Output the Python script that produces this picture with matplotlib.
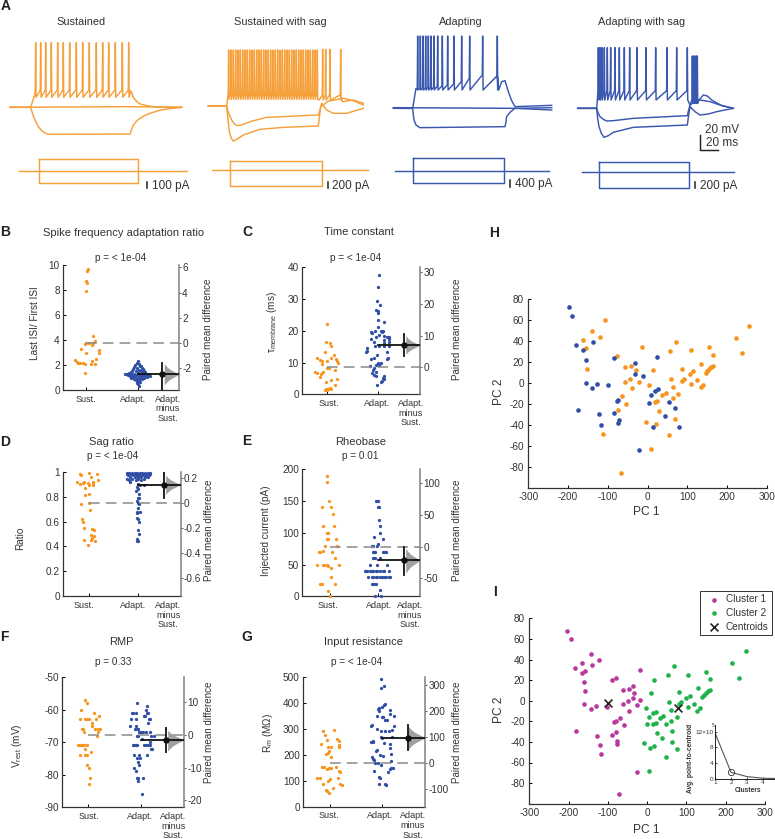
import matplotlib
matplotlib.use('Agg')
import matplotlib.pyplot as plt
import numpy as np

plt.rcParams['font.family'] = ['Liberation Sans', 'DejaVu Sans']
plt.rcParams['mathtext.default'] = 'regular'
plt.rcParams['axes.unicode_minus'] = False

ORANGE = '#F7941E'
BLUE = '#2F4EA5'
TRACE_ORANGE = '#F5A03A'
TRACE_BLUE = '#3A58AE'
MAGENTA = '#B8389C'
GREEN = '#1FB24B'
TEXT = '#333333'

# === Panel A traces at 3x ===
sus_spikes = [107, 122, 137, 154, 173, 190, 209, 229, 248, 268, 289, 308, 326, 346, 367, 386]
sus_hyper_t = [30, 92, 98, 105, 115, 125, 135, 145, 390, 395, 400, 410, 420, 435, 450, 475, 500, 545]
sus_hyper_v = [322, 322, 342, 360, 380, 392, 399, 403, 402, 388, 375, 363, 355, 346, 340, 332, 327, 322]
sus_after_t = [392, 400, 410, 420, 440, 460, 500, 545]
sus_after_v = [272, 292, 304, 312, 317, 320, 321, 322]

sag_spikes = [686, 693, 700, 707, 714, 721, 728, 735, 742, 749, 756, 763, 770, 777, 784, 791, 798, 805, 812, 819,
              826, 833, 840, 847, 854, 861, 868, 875, 882, 889, 896, 903, 910, 917, 924, 931, 938, 945, 952]
sag_late_spikes = [968, 977, 990, 1022]
sag_h1_t = [625, 680, 686, 695, 703, 712, 725, 750, 800, 955, 960, 965, 980, 1000, 1040, 1090]
sag_h1_v = [318, 318, 340, 360, 372, 377, 375, 365, 352, 345, 330, 310, 330, 340, 340, 325]
sag_h2_t = [625, 680, 684, 688, 694, 700, 710, 730, 780, 850, 955, 962, 985, 1030, 1060, 1090]
sag_h2_v = [318, 318, 360, 395, 415, 423, 418, 405, 388, 382, 378, 320, 303, 295, 302, 315]
sag_after_t = [1022, 1028, 1060, 1090]
sag_after_v = [290, 305, 300, 310]

ada_spikes = [53, 61, 69, 77, 85, 93, 102, 113, 127, 143, 162, 185, 209, 248, 292]
ada_thresh = [268, 265, 265, 265, 262, 262, 262, 258, 258, 255, 252, 245, 235, 225, 228]
ada_hyper_t = [0, 38, 40, 42, 48, 60, 315, 318, 320, 330, 345, 455]
ada_hyper_v = [325, 325, 345, 360, 375, 383, 380, 365, 350, 337, 325, 330]
ada_after_t = [292, 296, 305, 315, 325, 335, 345, 455]
ada_after_v = [228, 270, 245, 242, 275, 302, 320, 316]

adas_spikes = [595, 600, 606, 613, 622, 632, 645, 658, 673, 689, 711, 738, 767, 801, 830, 862]
adas_burst = [877, 881, 885, 889, 892]
adas_h1_t = [533, 590, 594, 600, 610, 620, 640, 700, 862, 866, 870, 885, 900, 930, 960, 1000]
adas_h1_v = [325, 325, 338, 350, 358, 363, 362, 355, 347, 330, 315, 305, 300, 305, 315, 325]
adas_h2_t = [533, 590, 593, 597, 604, 612, 625, 640, 700, 862, 866, 870, 885, 900, 925, 950, 1000]
adas_h2_v = [325, 325, 355, 380, 400, 412, 407, 397, 382, 375, 345, 320, 335, 345, 342, 335, 325]
adas_after_t = [892, 897, 910, 922, 935, 965, 1000]
adas_after_v = [310, 300, 285, 288, 300, 317, 325]

# === Panels B-G: swarm values and their horizontal spread ===
b_sust = [9.7, 9.5, 8.7, 8.6, 7.9, 4.3, 3.9, 3.8, 3.8, 3.75,
          3.7, 3.6, 3.3, 3.2, 3.0, 3.0, 2.5, 2.4, 2.3, 2.25,
          2.2, 2.15, 2.15, 2.1, 2.1, 2.1, 1.4]
b_sust_x = [2, 1, 0, 1, 0, 7, 9, 7, 0, 3,
            -1, 6, -5, 13, 13, 0, 10, -11, 6, -9,
            -6, -3, -8, 5, -1, 9, -1]
b_adapt = [2.3, 2.15, 2.05, 2.0, 1.95, 1.9, 1.85, 1.8, 1.75, 1.7,
           1.65, 1.6, 1.55, 1.55, 1.5, 1.5, 1.45, 1.45, 1.4, 1.35,
           1.35, 1.3, 1.3, 1.3, 1.25, 1.25, 1.25, 1.25, 1.2, 1.2,
           1.2, 1.2, 1.15, 1.15, 1.15, 1.1, 1.1, 1.1, 1.1, 1.05,
           1.05, 1.0, 1.0, 1.0, 0.95, 0.9, 0.9, 0.85, 0.8, 0.75,
           0.7, 0.65, 0.55, 0.45, 0.35]
b_adapt_x = [0, -1, 1, -3, 2, 3, -4, 4, -1, -5,
             5, 1, -6, 6, -2, 3, -7, 7, 0, -9,
             4, -4, -11, 8, -13, -7, 1, 5, -10, -2,
             9, 11, -6, 3, 12, -8, -3, 1, 6, -5,
             9, -1, 3, -7, 6, -4, 1, 4, -2, 1,
             -1, 2, -1, 0, 1]

c_sust = [22.2, 16.4, 16.1, 15.2, 13.3, 12.3, 11.5, 11.4, 10.7, 11.1,
          10.5, 10.5, 10.5, 9.9, 9.6, 8.4, 8.2, 7.5, 6.9, 6.7,
          7.1, 6.3, 5.5, 4.8, 4.6, 4.0, 2.8, 2.1, 1.8, 1.7,
          1.5, 1.3, 1.6]
c_sust_x = [0, -1, 3, 4, -2, 7, -10, 4, -7, 9,
            10, -5, 0, 11, -5, 2, 0, 8, -12, -10,
            -4, -6, -7, 10, 4, -1, 8, 3, 1, 4,
            0, -2, -1]
c_adapt = [37.5, 33.7, 29.3, 28, 26.7, 26.2, 25.6, 23.3, 22.7, 21.1,
           20, 20, 19.8, 19.5, 19.4, 19.5, 18.7, 18.5, 18.1, 18.2,
           18, 17.3, 17.4, 17, 16.6, 16.5, 16.2, 15.3, 15.1, 15.3,
           15.1, 14.5, 13.6, 13.2, 13.2, 12.4, 11.5, 11.2, 11.5, 11.1,
           9.9, 9.8, 9.2, 9, 9.1, 8.4, 7.7, 6.8, 6.9, 6.1,
           5.9, 5.7, 5, 4.8, 4.3, 3.8, 2.8]
c_adapt_x = [1, 0, -1, 2, -2, 0, 0, 0, 6, 0,
             -3, 3, 5, -7, -6, 4, 1, 6, -2, 11,
             9, -7, 11, 6, 11, -4, 6, -3, 1, 11,
             6, -11, -11, -12, 9, -1, 10, 9, -4, -7,
             0, 3, 1, -8, -2, -4, -5, -6, -2, -4,
             -2, 6, 5, 6, 4, 3, -1]

d_sust = [.99, .98, .98, .97, .96, .92, .93, .92, .92, .91,
          .91, .91, .89, .9, .89, .87, .82, .81, .74, .75,
          .69, .62, .6, .55, .54, .53, .49, .48, .465, .455,
          .45, .445, .41]
d_sust_x = [0, 8, -9, -8, 2, -12, 9, -5, 4, -6,
            -1, 4, 0, -9, 4, -4, 0, -4, -8, 0,
            1, -7, -6, -5, 3, 5, 2, 5, 3, 2,
            -5, 6, -1]
d_adapt = [.99, .99, .99, .99, .99, .99, .99, .99, .99, .99,
           .98, .98, .98, .98, .98, .98, .98, .98, .97, .97,
           .97, .97, .97, .97, .97, .96, .96, .96, .96, .96,
           .96, .94, .94, .94, .94, .93, .93, .93, .92, .9,
           .89, .89, .88, .865, .845, .825, .785, .79, .765, .75,
           .74, .705, .675, .675, .665, .625, .62, .595, .535, .5,
           .46, .445, .44]
d_adapt_x = [-11, -9, -6, -3, -1, 2, 4, 7, 10, 12,
             -11, -7, -4, 0, 3, 6, 9, 12, -10, -5,
             -2, 1, 5, 8, 11, -8, -3, 0, 3, 7,
             10, -11, -6, 0, 6, -9, -2, 3, -8, 0,
             2, 6, -1, 0, -2, 1, 0, 1, -1, 0,
             1, 0, -1, 2, -1, -1, 0, 1, 0, 1,
             -1, -1, 0]

e_sust = [190, 180, 150, 140, 140, 130, 110, 110, 100, 100,
          90, 90, 90, 80, 80, 72, 70, 70, 70, 60,
          50, 50, 50, 50, 50, 47, 44, 30, 20, 20,
          20, 8, 0]
e_sust_x = [-3, -3, -1, -8, 1, 3, -7, 4, -3, -2,
            -3, -2, 6, -5, 7, -7, 2, -11, -10, 5,
            -13, -7, -6, -3, 9, -2, 1, 1, -10, -8,
            5, -2, 0]
e_adapt = [150, 150, 140, 140, 120, 110, 100, 93, 90, 83,
           80, 80, 80, 70, 70, 70, 70, 70, 70, 60,
           60, 60, 50, 50, 50, 40, 40, 40, 40, 40,
           40, 40, 40, 40, 40, 40, 40, 30, 30, 30,
           30, 30, 30, 30, 30, 30, 30, 30, 20, 20,
           20, 10, 0, 0]
e_adapt_x = [-2, 0, 0, 1, 1, 2, 2, -4, 5, 0,
             -6, -5, -1, -5, -3, 5, 7, -4, 8, -5,
             -3, 2, -8, -1, 9, -13, -12, -11, -8, -6,
             -5, -2, -1, 2, 5, 6, 11, -10, -6, -5,
             -2, -1, 2, 4, 6, 8, 11, 12, -6, -4,
             -2, 2, -3, 3]

f_sust = [-57, -58, -60, -61, -62, -63, -63, -63, -63, -63,
          -64, -65, -66, -66, -66, -66, -66, -67, -67, -68,
          -71, -71, -71, -71, -71, -71, -71, -72, -73, -74,
          -74, -74, -77, -78, -81, -83]
f_sust_x = [-3, -1, -7, 6, 11, -8, -3, -1, 1, 8,
            4, 4, -6, -5, 7, 10, 12, -4, 10, 9,
            -10, -9, -8, -7, -6, -4, -1, -3, 3, -8,
            -3, -1, -1, 1, 2, 1]
f_adapt = [-58, -59, -60, -61, -61, -61, -61, -61, -62, -62,
           -63, -63, -63, -63, -64, -65, -65, -66, -66, -66,
           -67, -67, -67, -67, -67, -68, -68, -68, -68, -69,
           -70, -71, -71, -71, -71, -71, -71, -71, -71, -72,
           -72, -74, -74, -74, -75, -75, -76, -77, -78, -79,
           -81, -81, -81, -82, -86]
f_adapt_x = [-4, 6, 5, -9, -8, -5, 6, 7, 4, 3,
             -10, -5, 8, 9, 7, -11, -5, -6, -4, -3,
             -2, 0, 2, 5, 9, -4, -3, 10, 13, 1,
             9, -8, -7, -5, -4, 3, 5, 7, 9, 10,
             11, -7, -2, 6, -4, -1, -3, -2, -7, -5,
             -4, -3, 2, -3, 1]

g_sust = [295, 290, 275, 260, 258, 255, 240, 238, 232, 232,
          230, 215, 208, 205, 190, 155, 153, 150, 150, 152,
          145, 138, 135, 112, 110, 110, 108, 100, 88, 88,
          85, 72, 65, 60, 55]
g_sust_x = [4, -7, -5, 7, -3, 9, -9, 9, 9, -2,
            1, -1, -2, -4, 1, -8, -6, -1, 1, 6,
            -3, 9, 10, -13, -10, 8, 0, -2, -7, 10,
            12, 3, -4, -3, -1]
g_adapt = [490, 465, 455, 395, 390, 385, 380, 375, 370, 372,
           355, 348, 348, 335, 335, 345, 345, 315, 310, 312,
           300, 295, 290, 290, 290, 270, 270, 265, 250, 250,
           255, 245, 243, 225, 220, 215, 205, 200, 195, 190,
           185, 180, 175, 170, 170, 160, 150, 150, 145, 140,
           135, 115, 110, 90, 90, 85]
g_adapt_x = [-1, 2, -1, 3, 2, 0, -3, -4, -3, 8,
             8, -5, 12, 3, 5, 0, 1, -10, -11, 12,
             -5, 10, 7, 3, -1, -1, 10, 0, -9, -11,
             -9, 2, 8, 8, -5, -6, 9, -2, 1, -10,
             -9, -8, 9, -4, -7, -1, 9, 11, 8, -8,
             6, -3, -2, -3, 3, 4]

# bootstrap density shape, shared by the grey half violins
violin_frac = [-1, -.75, -.5, -.25, 0, .25, .5, .75, 1]
violin_dens = [0, .14, .34, .66, 1, .66, .34, .14, 0]

# === Panel H ===
h_blue_pc1 = [-198, -190, -180, -163, -138, -155, -156, -139, -127, -99, -176, -121, -117, -84, -31, -31, -11,
              23, 27, 20, 10, 5, -78, -74, -85, -71, -73, 53, 69, 45, 13, 79, -22]
h_blue_pc2 = [72, 64, 36, 31, 39, 22, 0, -5, -1, -2, -26, -30, -40, 24, 19, 8, 6,
              25, -6, -8, -12, -19, -17, -16, -29, -36, -38, -18, -24, -32, -42, -42, -64]
h_orange_pc1 = [-106, -139, -119, -163, -155, -153, -76, -15, -57, -42, -29, -45, -56, -21, -40, -64, -55, -74, -113,
                14, 3, 57, 72, 109, 154, 166, 135, 87, 60, 92, 86, 107, 114, 124, 110, 65, 139, 134, 77, 46,
                37, 65, 25, 18, 29, 68, -4, 21, 54, 9, 146, 149, 153, 157, 160, 164, 222, 239, 255, -67]
h_orange_pc2 = [60, 49, 44, 41, 33, 13, 26, 34, 15, 16, 12, 4, 1, 1, -5, -13, -20, -26, -49,
                12, -2, 30, 39, 31, 34, 27, 18, 13, 4, 4, 2, 8, 11, 3, -1, -4, -2, -4, -11, -10,
                -12, -15, -17, -18, -27, -35, -37, -39, -50, -63, 9, 11, 12, 14, 15, 16, 43, 28, 54, -86]

# === Panel I ===
i_c1_pc1 = [-203, -195, -143, -166, -123, -141, -184, -159, -166, -160, -159, -80, -89, -19, -35, -45, -62, -33, -36, -17,
            -50, -62, -26, -162, -131, -144, -103, -45, -69, -79, -85, -59, -181, -79, -89, -127, -121, -118, -76, -78,
            -27, -72]
i_c1_pc2 = [68, 60, 45, 37, 40, 35, 32, 29, 27, 18, 9, 22, 20, 30, 14, 11, 10, 7, 3, 1,
            0, -3, -4, -3, -5, -8, -6, -10, -17, -20, -21, -24, -29, -30, -33, -34, -43, -52, -39, -42,
            -69, -91]
i_c2_pc1 = [251, 217, 234, 68, 52, 105, 149, 161, 18, 10, 130, 82, 109, 100, 160, 155, 150, 145, 139, 55,
            87, 81, 120, 105, -2, 134, 128, 60, 23, 16, 5, 75, 33, 41, 61, 48, 22, 15, -1, 64,
            24, 39, -9, 63, 17, 7, 75, 48, 4]
i_c2_pc2 = [48, 37, 22, 34, 25, 25, 28, 21, 20, 7, 12, 8, 5, 3, 10, 9, 7, 6, 4, -1,
            -1, -3, -3, -6, -7, -7, -10, -9, -11, -12, -16, -16, -17, -15, -20, -23, -22, -23, -23, -29,
            -31, -36, -41, -40, -44, -46, -47, -55, -68]
centroid_pc1 = [-99, 79]
centroid_pc2 = [-2, -7]

# inset elbow curve
elbow_k = [1, 2, 3, 4, 5]
elbow_dist = [11.7, 1.7, 0.6, 0.2, 0.1]

W, H = 775, 839
fig = plt.figure(figsize=(W / 100, H / 100), dpi=100)
ov = fig.add_axes([0, 0, 1, 1], zorder=10)
ov.set_xlim(0, W)
ov.set_ylim(H, 0)
ov.axis('off')


def txt(x, y, s, size=7.2, **kw):
    kw.setdefault('ha', 'center')
    kw.setdefault('va', 'center')
    kw.setdefault('color', TEXT)
    ov.text(x, y, s, fontsize=size, **kw)


def axes_px(l, t, r, b):
    return fig.add_axes([l / W, 1 - b / H, (r - l) / W, (b - t) / H])


def spike_train(times, peak, trough, thresh):
    peak = np.broadcast_to(peak, (len(times),))
    trough = np.broadcast_to(trough, (len(times),))
    thresh = np.broadcast_to(thresh, (len(times),))
    xs, ys = [], []
    for t, p, tr, th in zip(times, peak, trough, thresh):
        xs += [t - 1.2, t, t + 1.2]
        ys += [th, p, tr]
    return xs, ys


def trace(t, v, x0, color, lw=1.05):
    ov.plot(x0 + np.asarray(t) / 3, np.asarray(v) / 3, color=color, lw=lw, solid_joinstyle='round')


def stim(x0, color, base, x_start, x_end, box_l, box_r, box_t, box_b, bar_x, bar_t, bar_b, label):
    trace([x_start, x_end], [base, base], x0, color)
    trace([box_l, box_r, box_r, box_l, box_l], [box_t, box_t, box_b, box_b, box_t], x0, color)
    trace([bar_x, bar_x], [bar_t, bar_b], x0, '#222222', lw=1.1)
    txt(x0 + bar_x / 3 + 4.5, (bar_t + bar_b) / 6 + 0.5, label, size=8.5, ha='left')


# === Panel A ===
x, y = spike_train(sus_spikes, 128, 292, 270)
trace([30, 92, 104] + x + sus_after_t, [322, 322, 285] + y + sus_after_v, 0, TRACE_ORANGE)
trace([30, 380, 545], [322, 320, 322], 0, TRACE_ORANGE)
trace(sus_hyper_t, sus_hyper_v, 0, TRACE_ORANGE)
stim(0, TRACE_ORANGE, 513, 58, 560, 117, 413, 477, 550, 442, 545, 565, '100 pA')
txt(81, 22, 'Sustained', 7.9)

x, y = spike_train(sag_spikes, 150, 298, 275)
x2, y2 = spike_train(sag_late_spikes, 148, 300, 285)
trace([625, 680, 684] + x + [958] + x2 + sag_after_t, [318, 318, 285] + y + [300] + y2 + sag_after_v, 0, TRACE_ORANGE)
trace(sag_h1_t, sag_h1_v, 0, TRACE_ORANGE)
trace(sag_h2_t, sag_h2_v, 0, TRACE_ORANGE)
stim(0, TRACE_ORANGE, 510, 637, 1103, 690, 965, 483, 557, 983, 547, 565, '200 pA')
txt(280, 22, 'Sustained with sag', 7.9)

x, y = spike_train(ada_spikes, 108, 270, ada_thresh)
trace([-20, 38, 48] + x + ada_after_t, [325, 325, 265] + y + ada_after_v, 400, TRACE_BLUE)
trace([-20, 345, 455], [323, 325, 323], 400, TRACE_BLUE)
trace(ada_hyper_t, ada_hyper_v, 400, TRACE_BLUE)
stim(400, TRACE_BLUE, 513, -15, 448, 40, 313, 475, 550, 331, 540, 560, '400 pA')
txt(461, 22, 'Adapting', 7.9)

x, y = spike_train(adas_spikes, 143, 300, 272)
x2, y2 = spike_train(adas_burst, 168, 310, 300)
trace([533, 590, 592] + x + [870] + x2 + adas_after_t, [325, 325, 300] + y + [315] + y2 + adas_after_v, 400, TRACE_BLUE)
trace(adas_h1_t, adas_h1_v, 400, TRACE_BLUE)
trace(adas_h2_t, adas_h2_v, 400, TRACE_BLUE)
stim(400, TRACE_BLUE, 515, 545, 1002, 598, 867, 487, 563, 885, 547, 563, '200 pA')
txt(642, 22, 'Adapting with sag', 7.9)

# 20 mV / 20 ms scale bar
trace([900, 900, 955], [405, 450, 450], 400, '#222222')
txt(722, 130, '20 mV', 8.5)
txt(722, 142.5, '20 ms', 8.5)


# === Swarm panels ===
def swarm(box, ylim, yticks, ylabels, rlim, rticks, rlabels, sust, sust_x, adapt, adapt_x, centers, xlab,
          diff, ci, vrange, vbase):
    ax = axes_px(*box)
    ax.set_xlim(box[0], box[2])
    ax.set_ylim(*ylim)
    ax.set_yticks(yticks, ylabels)
    c_s, c_a, c_d = centers
    ax.set_xticks([c_s, c_a], ['', ''])
    ax.tick_params(direction='in', length=2, width=0.7, labelsize=7.2, labelcolor=TEXT, pad=2.5)
    for s in ['top', 'right']:
        ax.spines[s].set_visible(False)
    for s in ['left', 'bottom']:
        ax.spines[s].set_linewidth(0.9)
        ax.spines[s].set_color('#333333')
    ax.scatter(c_s + np.array(sust_x), sust, s=5.5, color=ORANGE, linewidths=0, zorder=3, clip_on=False)
    ax.scatter(c_a + np.array(adapt_x), adapt, s=5.5, color=BLUE, linewidths=0, zorder=3, clip_on=False)

    ax2 = ax.twinx()
    ax2.set_ylim(*rlim)
    ax2.set_yticks(rticks, rlabels)
    ax2.tick_params(direction='out', length=1.5, width=0.7, labelsize=7.2, labelcolor=TEXT, pad=0.8, color='#555555')
    ax2.spines['top'].set_visible(False)
    ax2.spines['left'].set_visible(False)
    ax2.spines['bottom'].set_visible(False)
    ax2.spines['right'].set_color('#808080')
    ax2.spines['right'].set_linewidth(1.1)
    ax2.plot([c_s, box[2]], [0, 0], color='#8a8a8a', lw=1.1, dashes=(7, 4), zorder=1)

    frac = np.array(violin_frac)
    vy = diff + np.where(frac < 0, frac * (diff - vrange[0]), frac * (vrange[1] - diff))
    ax2.fill_betweenx(vy, vbase, vbase + np.array(violin_dens) * (box[2] - vbase), color='#A0A0A0', lw=0, zorder=2)
    ax2.plot([c_a, box[2]], [diff, diff], color='#111111', lw=1.3, zorder=4)
    ax2.plot([c_d, c_d], ci, color='#111111', lw=1.3, zorder=4)
    ax2.plot([c_d], [diff], 'o', color='#111111', ms=3.6, zorder=5)

    ty = box[3] + 4.5
    txt(xlab[0], ty, 'Sust.', 6.5, va='top')
    txt(xlab[1], ty, 'Adapt.', 6.5, va='top')
    txt(xlab[2], ty, 'Adapt.\nminus\nSust.', 6.5, va='top', linespacing=1.12)


swarm((63.3, 265, 179, 390), (0, 10), [0, 2, 4, 6, 8, 10], None, (-3.72, 6.18), [-2, 0, 2, 4, 6], None,
      b_sust, b_sust_x, b_adapt, b_adapt_x, (86, 137.7, 162.3), (85.7, 133.3, 167.7),
      -2.48, (-3.72, -1.61), (-3.33, -1.61), 164.3)
swarm((302.3, 267.3, 420.3, 394.3), (0, 40), [0, 10, 20, 30, 40], None, (-8.53, 31.6), [0, 10, 20, 30], None,
      c_sust, c_sust_x, c_adapt, c_adapt_x, (327.3, 377.7, 403.7), (329, 376.7, 411),
      6.95, (3.7, 10.4), (4.1, 10), 405.7)
swarm((63.3, 471.7, 180.7, 596.3), (0, 1), [0, .2, .4, .6, .8, 1], ['0', '0.2', '0.4', '0.6', '0.8', '1'],
      (-.749, .248), [-.6, -.4, -.2, 0, .2], ['-0.6', '-0.4', '-0.2', '0', '0.2'],
      d_sust, d_sust_x, d_adapt, d_adapt_x, (89, 138.3, 163.7), (84, 133.3, 168.3),
      .144, (.04, .243), (.067, .221), 165.7)
swarm((302.3, 469.3, 420.3, 596.3), (0, 200), [0, 50, 100, 150, 200], None, (-78.2, 121.8), [-50, 0, 50, 100], None,
      e_sust, e_sust_x, e_adapt, e_adapt_x, (330, 378.3, 403.7), (327.7, 379, 410),
      -21.5, (-44.6, 0), (-42, -2.6), 405.7)
swarm((62.3, 677, 184, 807.3), (-90, -50), [-90, -80, -70, -60, -50], None, (-22.1, 17.8), [-20, -10, 0, 10], None,
      f_sust, f_sust_x, f_adapt, f_adapt_x, (88.3, 140.7, 166), (89, 140, 173.3),
      -1.43, (-5.3, 2.04), (-4.9, 1.53), 167.7)
swarm((303.3, 676.7, 425.3, 807), (0, 500), [0, 100, 200, 300, 400, 500], None, (-169, 332), [-100, 0, 100, 200, 300], None,
      g_sust, g_sust_x, g_adapt, g_adapt_x, (330, 381.7, 407.7), (329, 380, 412.7),
      97.4, (50, 146), (52.6, 142), 408.3)

# titles, p values and axis names of the swarm panels
txt(123.3, 232.7, 'Spike frequency adaptation ratio', 8)
txt(120.7, 258.3, 'p = < 1e-04')
txt(359.3, 232, 'Time constant', 8)
txt(356, 258, 'p = < 1e-04')
txt(111.7, 441.7, 'Sag ratio', 8)
txt(113, 456, 'p = < 1e-04')
txt(360.7, 441.7, 'Rheobase', 8)
txt(360.7, 456, 'p = 0.01')
txt(121.7, 641.7, 'RMP', 8)
txt(113, 662, 'p = 0.33')
txt(363, 641.7, 'Input resistance', 8)
txt(356.7, 662, 'p = < 1e-04')

txt(35, 323, 'Last ISI/ First ISI', 7.2, rotation=90)
txt(271.7, 321.7, 'τ$_{membrane}$ (ms)', 7.2, rotation=90)
txt(20, 538, 'Ratio', 7.2, rotation=90)
txt(266, 530.7, 'Injected current (pA)', 7.2, rotation=90)
txt(16.7, 745.7, 'V$_{rest}$ (mV)', 7.2, rotation=90)
txt(268.3, 733.3, 'R$_{m}$ (MΩ)', 7.2, rotation=90)
for rx, ry in [(207.7, 329.3), (457, 329.3), (209, 530), (457.3, 530), (209, 732.3), (457.3, 732.3)]:
    txt(rx, ry, 'Paired mean difference', 7.1, rotation=90)


# === PCA panels ===
def pca_axes(box):
    ax = axes_px(*box)
    ax.set_xlim(-300, 300)
    ax.set_ylim(-100, 80)
    ax.set_xticks(range(-300, 301, 100))
    ax.set_yticks(range(-80, 81, 20))
    ax.tick_params(direction='in', length=2, width=0.7, labelsize=7.2, labelcolor=TEXT, pad=3)
    for s in ['top', 'right']:
        ax.spines[s].set_visible(False)
    for s in ['left', 'bottom']:
        ax.spines[s].set_linewidth(0.9)
        ax.spines[s].set_color('#333333')
    return ax


ax_h = pca_axes((528.3, 299, 766.7, 487.5))
ax_h.scatter(h_orange_pc1, h_orange_pc2, s=11, color=ORANGE, linewidths=0, clip_on=False)
ax_h.scatter(h_blue_pc1, h_blue_pc2, s=11, color=BLUE, linewidths=0, clip_on=False)
txt(499.3, 391.7, 'PC 2', 8.6, rotation=90)
txt(646, 512, 'PC 1', 8.6)

ax_i = pca_axes((529.3, 618.3, 765, 803.7))
ax_i.scatter(i_c1_pc1, i_c1_pc2, s=11, color=MAGENTA, linewidths=0, label='Cluster 1')
ax_i.scatter(i_c2_pc1, i_c2_pc2, s=11, color=GREEN, linewidths=0, label='Cluster 2')
ax_i.scatter(centroid_pc1, centroid_pc2, s=32, marker='x', color='#222222', linewidths=1.2, label='Centroids', zorder=4)
leg = ax_i.legend(loc='upper right', bbox_to_anchor=(772 / W, 1 - 591 / H), bbox_transform=fig.transFigure,
                  fontsize=7.2, frameon=True, fancybox=False, edgecolor='#333333', framealpha=1,
                  borderaxespad=0, borderpad=0.35, labelspacing=0.35, handletextpad=0.2, handlelength=2)
leg.get_frame().set_linewidth(0.7)
for t in leg.get_texts():
    t.set_color(TEXT)
txt(499, 710, 'PC 2', 8.6, rotation=90)
txt(646, 830, 'PC 1', 8.6)

# inset
ins = axes_px(715, 725, 775, 779)
ins.set_xlim(1, 4.75)
ins.set_ylim(0, 13.7)
ins.set_xticks([1, 2, 3, 4])
ins.set_yticks([0, 4, 8, 12], ['0', '4', '8', '12×10'])
ins.patch.set_alpha(0)
ins.tick_params(direction='in', length=1.5, width=0.5, labelsize=4.6, pad=1, labelcolor=TEXT)
for s in ['top', 'right']:
    ins.spines[s].set_visible(False)
for s in ['left', 'bottom']:
    ins.spines[s].set_linewidth(0.6)
ins.plot(elbow_k, elbow_dist, color='#555555', lw=0.8)
ins.plot([2], [elbow_dist[1]], 'o', mfc='none', mec='#333333', ms=4.5, mew=0.6, clip_on=False)
txt(713.5, 725.5, '5', 3.6)
txt(693.5, 758, 'Avg. point-to-centroid', 4.8, rotation=90, fontweight='bold', ha='right')
txt(748, 791, 'Clusters', 4.8, fontweight='bold')

# panel letters
for lx, ly, s in [(6, 6, 'A'), (5, 232, 'B'), (247, 232, 'C'), (5, 441.7, 'D'), (247, 441, 'E'),
                  (4.5, 636.7, 'F'), (247, 636.7, 'G'), (494, 232.7, 'H'), (495, 592, 'I')]:
    txt(lx, ly, s, 10, fontweight='bold', color='#222222')

fig.savefig('out.png', dpi=100)
